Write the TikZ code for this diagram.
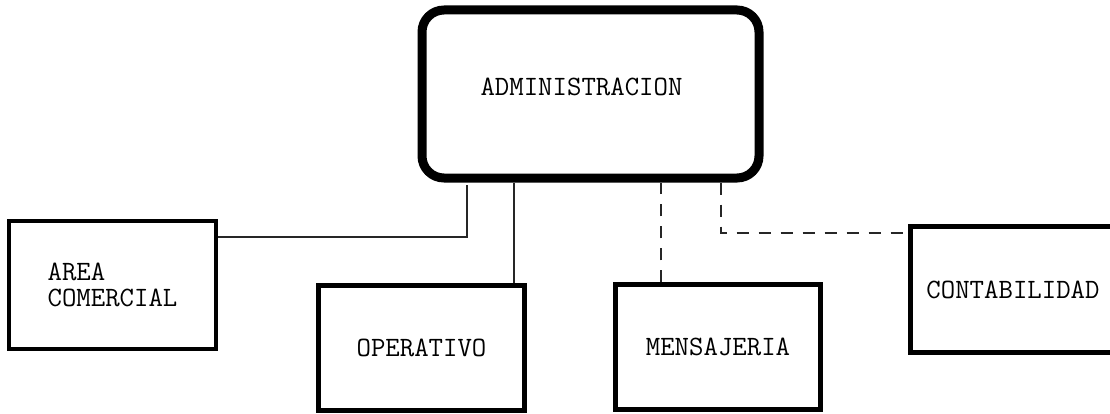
\documentclass[tikz,border=0pt]{standalone}
\usepackage{fontspec}
\newcommand{\letra}{\ttfamily\fontsize{28bp}{26bp}\selectfont}

\begin{document}
\begin{tikzpicture}[x=1bp, y=1bp,
    caja/.style={draw=black, line width=4.5bp, minimum width=206bp,
      minimum height=126bp, font=\letra},
    jefe/.style={draw=black, line width=9bp, rounded corners=22bp,
      minimum width=337bp, minimum height=168bp, font=\letra},
    enlace/.style={line width=1.3bp, draw=black!85},
    punteado/.style={enlace, dash pattern=on 12bp off 10bp}]

  \useasboundingbox (0,0) rectangle (1110,413);
  \clip (0,0) rectangle (1110,413);

  % Cajas
  \node [jefe] (admin) at (590.5,319) {};
  \node [font=\letra] (admintxt) at ([xshift=-9bp, yshift=7bp]admin.center)
    {ADMINISTRACION};
  \node [caja, minimum width=207bp, minimum height=128bp, align=left]
    (area) at (112.5,128) {AREA\\COMERCIAL};
  \node [caja, minimum height=125bp] (operativo) at (421.5,65) {OPERATIVO};
  \node [caja, minimum width=205bp, minimum height=125bp]
    (mensajeria) at (718,66) {MENSAJERIA};
  \node [caja, minimum width=205bp] (contab) at (1013,123.5) {CONTABILIDAD};

  % Enlaces
  \draw [enlace] ([yshift=48bp]area.east)
    -| ([xshift=-123.5bp, yshift=-2.5bp]admin.south);
  \coordinate (op) at ([xshift=92.5bp]operativo.north);
  \draw [enlace] (op) -- (op |- admin.south);
  \coordinate (me) at ([xshift=-57bp]mensajeria.north);
  \draw [punteado] (me) -- (me |- admin.south);
  \draw [punteado] ([xshift=130.5bp]admin.south) |- ([yshift=56.5bp]contab.west);
\end{tikzpicture}
\end{document}
